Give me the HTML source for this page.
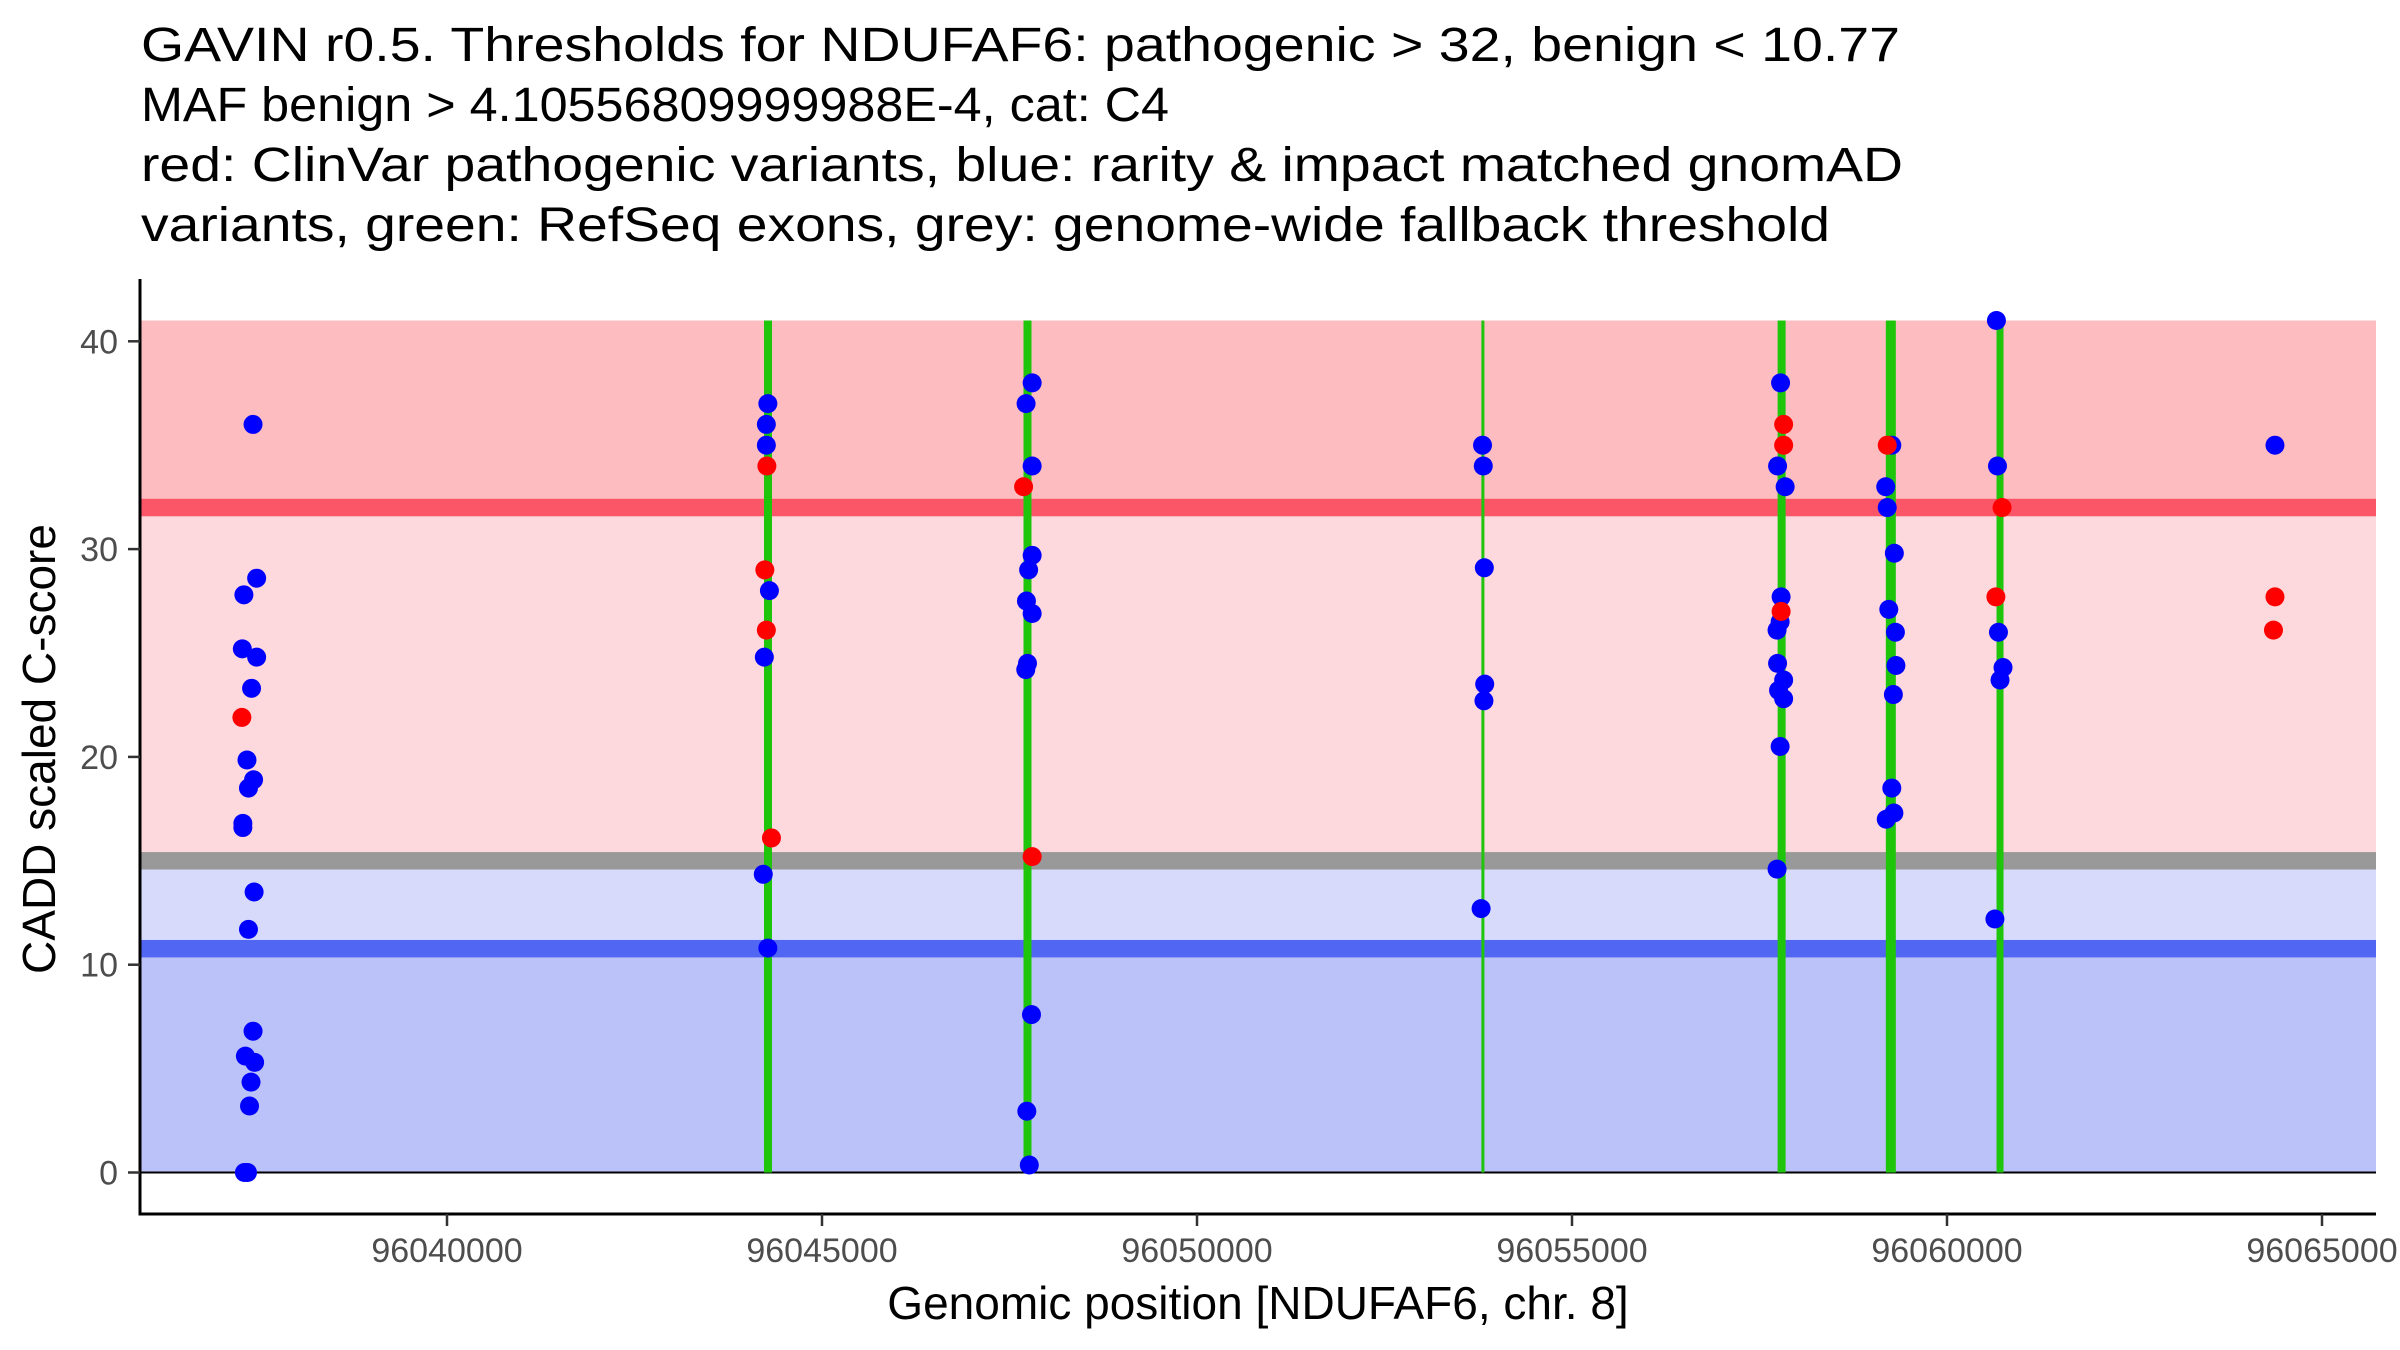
<!DOCTYPE html>
<html><head><meta charset="utf-8"><title>GAVIN NDUFAF6</title>
<style>html,body{margin:0;padding:0;background:#fff;}svg{display:block;font-family:"Liberation Sans",Arial,sans-serif;}</style>
</head><body>
<svg id="chart" width="2400" height="1350" viewBox="0 0 2400 1350" xmlns="http://www.w3.org/2000/svg">
<g font-size="48" fill="#000">
<text x="141" y="61" textLength="1759" lengthAdjust="spacingAndGlyphs">GAVIN r0.5. Thresholds for NDUFAF6: pathogenic &gt; 32, benign &lt; 10.77</text>
<text x="141" y="121" textLength="1028" lengthAdjust="spacingAndGlyphs">MAF benign &gt; 4.10556809999988E-4, cat: C4</text>
<text x="141" y="181" textLength="1762" lengthAdjust="spacingAndGlyphs">red: ClinVar pathogenic variants, blue: rarity &amp; impact matched gnomAD</text>
<text x="141" y="241" textLength="1689" lengthAdjust="spacingAndGlyphs">variants, green: RefSeq exons, grey: genome-wide fallback threshold</text>
</g>
<g id="bands"></g>
<g id="exons"></g>
<g id="points"></g>
<g id="axes"></g>
</svg>
<script>
const xTicks = [96040000, 96045000, 96050000, 96055000, 96060000, 96065000];
const yTicks = [0, 10, 20, 30, 40];
const pathogenicThreshold = 32;
const benignThreshold = 10.77;
const fallbackThreshold = 15;
const bandTop = 41;
const exonPositions = [96044280, 96047740, 96053812, 96057795, 96059251, 96060707];
const exonWidths = [8, 8, 3, 8, 10, 7];
const bluePos = [96037414,96037292,96037462,96037271,96037462,96037394,96037333,96037421,96037353,96037278,96037278,96037428,96037353,96037414,96037312,96037435,96037387,96037367,96037299,96037340,
96044278,96044258,96044258,96044299,96044231,96044217,96044278,
96047802,96047721,96047802,96047802,96047755,96047726,96047802,96047740,96047717,96047793,96047731,96047764,
96053807,96053817,96053831,96053836,96053826,96053788,
96057781,96057741,96057842,96057788,96057775,96057734,96057741,96057822,96057754,96057822,96057775,96057734,
96059264,96059183,96059203,96059298,96059224,96059312,96059319,96059285,96059264,96059292,96059190,
96060659,96060673,96060686,96060747,96060707,96060639,
96064373];
const blueVal = [36.0,27.8,28.6,25.2,24.8,23.3,19.85,18.9,18.5,16.8,16.6,13.5,11.7,6.8,5.6,5.3,4.35,3.2,0,0,
37.0,36.0,35.0,28.0,24.8,14.35,10.8,
38.0,37.0,34.0,29.7,29.0,27.5,26.9,24.5,24.2,7.6,2.95,0.36,
35.0,34.0,29.1,23.5,22.7,12.7,
38.0,34.0,33.0,27.7,26.5,26.1,24.5,23.7,23.2,22.8,20.5,14.6,
35.0,33.0,32.0,29.8,27.1,26.0,24.4,23.0,18.5,17.3,17.0,
41.0,34.0,26.0,24.3,23.7,12.2,
35.0];
const redPos = [96037265,96044265,96044238,96044258,96044326,96047688,96047802,96057822,96057822,96057788,96059203,96060734,96060652,96064373,96064353];
const redVal = [21.9,34.0,29.0,26.1,16.1,33.0,15.2,36.0,35.0,27.0,35.0,32.0,27.7,27.7,26.1];

const NS = 'http://www.w3.org/2000/svg';
const panelL = 140, panelR = 2376, axisY = 1214, axisTop = 279;
function xScale(p){ return 447 + (p - 96040000) * 0.075; }
function yScale(v){ return 1172.5 - v * 20.78; }
function mk(tag, attrs, parent){ const e = document.createElementNS(NS, tag); for (const k in attrs) e.setAttribute(k, attrs[k]); parent.appendChild(e); return e; }

const bands = document.getElementById('bands');
const lineHalf = 0.42;
const bandDefs = [
  ['pathogenic-band', bandTop, pathogenicThreshold, '#fdbcc0'],
  ['intermediate-band', pathogenicThreshold, fallbackThreshold, '#fdd8dc'],
  ['low-band', fallbackThreshold, benignThreshold, '#d7dafb'],
  ['benign-band', benignThreshold, 0, '#bbc1f9']
];
for (const b of bandDefs) {
  const r = mk('rect', {x: panelL, y: yScale(b[1]), width: panelR - panelL, height: yScale(b[2]) - yScale(b[1]), fill: b[3]}, bands);
  
  
}
const lineDefs = [
  ['pathogenic-threshold-line', pathogenicThreshold, '#fb5668'],
  ['fallback-threshold-line', fallbackThreshold, '#999999'],
  ['benign-threshold-line', benignThreshold, '#5166f2']
];
for (const l of lineDefs) {
  const r = mk('rect', {x: panelL, y: yScale(l[1] + lineHalf), width: panelR - panelL, height: yScale(l[1] - lineHalf) - yScale(l[1] + lineHalf), fill: l[2]}, bands);
  
  
}
const zl = mk('line', {x1: panelL, x2: panelR, y1: yScale(0), y2: yScale(0), stroke: '#000', 'stroke-width': 2}, bands);



const exons = document.getElementById('exons');
exonPositions.forEach((p, i) => {
  const e = mk('line', {x1: xScale(p), x2: xScale(p), y1: yScale(0), y2: yScale(bandTop), stroke: '#1ec50b', 'stroke-width': exonWidths[i]}, exons);
  
  
});

const pts = document.getElementById('points');
bluePos.forEach((p, i) => {
  const c = mk('circle', {cx: xScale(p), cy: yScale(blueVal[i]), r: 9.5, fill: '#0000ff'}, pts);
  
  
});
redPos.forEach((p, i) => {
  const c = mk('circle', {cx: xScale(p), cy: yScale(redVal[i]), r: 9.5, fill: '#ff0000'}, pts);
  
  
});

const axes = document.getElementById('axes');
const ya = mk('line', {x1: panelL, x2: panelL, y1: axisTop, y2: axisY + 1.5, stroke: '#000', 'stroke-width': 3}, axes);


const xa = mk('line', {x1: panelL - 1.5, x2: panelR, y1: axisY, y2: axisY, stroke: '#000', 'stroke-width': 3}, axes);


yTicks.forEach(v => {
  const t = mk('line', {x1: 128, x2: panelL, y1: yScale(v), y2: yScale(v), stroke: '#333', 'stroke-width': 2.5}, axes);
  
  
  const tx = mk('text', {x: 118, y: yScale(v) + 12, 'text-anchor': 'end', 'font-size': 34, fill: '#4d4d4d'}, axes);
  tx.textContent = String(v);
  
  
});
xTicks.forEach(v => {
  const t = mk('line', {x1: xScale(v), x2: xScale(v), y1: axisY, y2: axisY + 12, stroke: '#333', 'stroke-width': 2.5}, axes);
  
  
  const tx = mk('text', {x: xScale(v), y: 1262, 'text-anchor': 'middle', 'font-size': 34, fill: '#4d4d4d'}, axes);
  tx.textContent = String(v);
  
  
});
const xt = mk('text', {x: 1258, y: 1319, 'text-anchor': 'middle', 'font-size': 46, fill: '#000'}, axes);
xt.textContent = 'Genomic position [NDUFAF6, chr. 8]';


const yt = mk('text', {x: 0, y: 0, 'text-anchor': 'middle', 'font-size': 46, fill: '#000', transform: 'translate(55,749) rotate(-90)'}, axes);
yt.textContent = 'CADD scaled C-score';


</script>
</body></html>
